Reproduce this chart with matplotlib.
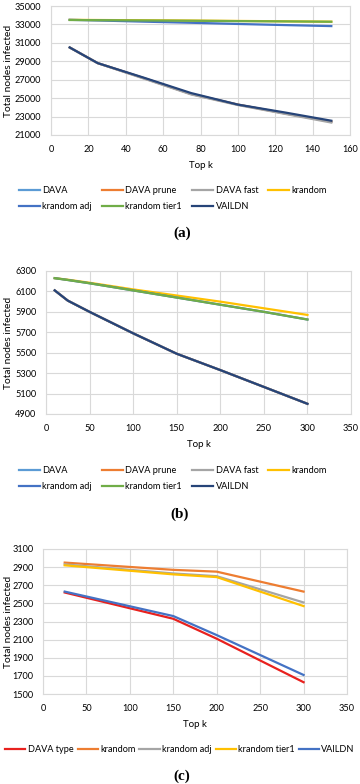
import matplotlib
matplotlib.use("Agg")
import matplotlib.pyplot as plt

FONT = ["Lato", "DejaVu Sans"]
plt.rcParams['font.family'] = FONT

# ---------------- data ----------------
# panel (a)
k_a = [10, 25, 50, 75, 100, 125, 150]
a_dava = [30500, 28800, 27150, 25450, 24300, 23350, 22450]
a_dava_prune = [30500, 28800, 27150, 25450, 24300, 23350, 22450]
a_dava_fast = [30500, 28800, 27100, 25400, 24250, 23300, 22350]
a_krandom = [33500, 33480, 33450, 33420, 33380, 33340, 33300]
a_krandom_adj = [33500, 33430, 33300, 33180, 33050, 32930, 32820]
a_krandom_tier1 = [33480, 33460, 33430, 33400, 33360, 33330, 33290]
a_vaildn = [30500, 28800, 27200, 25550, 24300, 23450, 22550]

# panel (b)
k_b = [10, 25, 50, 100, 150, 200, 250, 300]
b_dava = [6110, 6010, 5900, 5690, 5490, 5330, 5165, 5000]
b_dava_prune = [6110, 6010, 5900, 5690, 5490, 5330, 5165, 5000]
b_dava_fast = [6110, 6010, 5900, 5690, 5490, 5330, 5165, 5000]
b_krandom = [6230, 6215, 6185, 6120, 6060, 6000, 5935, 5870]
b_krandom_adj = [6230, 6212, 6180, 6110, 6040, 5970, 5900, 5825]
b_krandom_tier1 = [6230, 6212, 6180, 6110, 6040, 5970, 5900, 5825]
b_vaildn = [6110, 6010, 5900, 5690, 5490, 5330, 5165, 5000]

# panel (c)
k_c = [25, 150, 200, 300]
c_dava_type = [2620, 2330, 2110, 1630]
c_krandom = [2950, 2870, 2850, 2630]
c_krandom_adj = [2930, 2830, 2800, 2510]
c_krandom_tier1 = [2920, 2820, 2790, 2470]
c_vaildn = [2630, 2360, 2150, 1710]

names_ab = ["DAVA", "DAVA prune", "DAVA fast", "krandom", "krandom adj", "krandom tier1", "VAILDN"]
colors_ab = ["#5B9BD5", "#ED7D31", "#A5A5A5", "#FFC000", "#4472C4", "#70AD47", "#264478"]
names_c = ["DAVA type", "krandom", "krandom adj", "krandom tier1", "VAILDN"]
colors_c = ["#E8211E", "#ED7D31", "#A5A5A5", "#FFC000", "#4472C4"]

yt_a = list(range(21000, 35001, 2000))
xt_a = list(range(0, 161, 20))
yt_b = list(range(4900, 6301, 200))
xt_b = list(range(0, 351, 50))
yt_c = list(range(1500, 3101, 200))
xt_c = list(range(0, 351, 50))

# ---------------- figure ----------------
W, H = 360, 784
fig = plt.figure(figsize=(W / 100, H / 100), dpi=100)

def px_axes(left, top, right, bottom):
    return fig.add_axes([left / W, 1 - bottom / H, (right - left) / W, (bottom - top) / H])

GRID = "#D9D9D9"
TFS = 6.6

def style(ax, xt, yt, left, right):
    ax.set_xticks(xt)
    ax.set_yticks(yt)
    ax.set_xlim(xt[0], xt[-1])
    ax.set_ylim(yt[0], yt[-1])
    ax.grid(True, color=GRID, linewidth=0.8)
    ax.set_axisbelow(True)
    for s in ax.spines.values():
        s.set_color(GRID)
        s.set_linewidth(0.8)
    ax.tick_params(length=0, labelsize=TFS, colors="#000000", pad=7)
    ax.tick_params(axis="y", pad=7)
    ax.set_xlabel("Top k", fontsize=7, labelpad=5)
    ax.set_ylabel("Total nodes infected", fontsize=7.4)
    ax.yaxis.label.set_va("center")
    ax.yaxis.set_label_coords((8.5 - left) / (right - left), 0.5)

def legend_ab(ax, lines, y_anchor):
    order = [0, 4, 1, 5, 2, 6, 3]
    hs = [lines[i] for i in order]
    ls = [names_ab[i] for i in order]
    ax.legend(hs, ls, ncol=4, loc="upper left", bbox_to_anchor=(19 / W, y_anchor),
              bbox_transform=fig.transFigure, frameon=False, fontsize=TFS,
              handlelength=2.3, handletextpad=0.25, columnspacing=1.1,
              labelspacing=0.8, borderpad=0, borderaxespad=0)

# panel a
L, R = 51, 350
ax = px_axes(L, 6, R, 135)
series_a = [a_dava, a_dava_prune, a_dava_fast, a_krandom, a_krandom_adj, a_krandom_tier1, a_vaildn]
lines = []
for s, c in zip(series_a, colors_ab):
    l, = ax.plot(k_a, s, color=c, linewidth=1.6)
    lines.append(l)
style(ax, xt_a, yt_a, L, R)
legend_ab(ax, lines, 1 - 186 / H)
fig.text(182 / W, 1 - 233 / H, "(a)", ha="center", va="center",
         family=["Liberation Serif"], fontweight="bold", fontsize=11)

# panel b
L, R = 46, 351
ax = px_axes(L, 271, R, 414)
series_b = [b_dava, b_dava_prune, b_dava_fast, b_krandom, b_krandom_adj, b_krandom_tier1, b_vaildn]
lines = []
for s, c in zip(series_b, colors_ab):
    l, = ax.plot(k_b, s, color=c, linewidth=1.6)
    lines.append(l)
style(ax, xt_b, yt_b, L, R)
legend_ab(ax, lines, 1 - 466 / H)
fig.text(180 / W, 1 - 514 / H, "(b)", ha="center", va="center",
         family=["Liberation Serif"], fontweight="bold", fontsize=11)

# panel c
L, R = 43, 347
ax = px_axes(L, 549, R, 694)
series_c = [c_dava_type, c_krandom, c_krandom_adj, c_krandom_tier1, c_vaildn]
lines = []
for s, c in zip(series_c, colors_c):
    l, = ax.plot(k_c, s, color=c, linewidth=1.6)
    lines.append(l)
style(ax, xt_c, yt_c, L, R)
ax.legend(lines, names_c, ncol=5, loc="center", bbox_to_anchor=(180 / W, 1 - 750 / H),
          bbox_transform=fig.transFigure, frameon=False, fontsize=TFS,
          handlelength=2.2, handletextpad=0.25, columnspacing=0.45,
          borderpad=0, borderaxespad=0)
fig.text(182 / W, 1 - 776 / H, "(c)", ha="center", va="center",
         family=["Liberation Serif"], fontweight="bold", fontsize=11)

fig.savefig("out.png", dpi=100)
